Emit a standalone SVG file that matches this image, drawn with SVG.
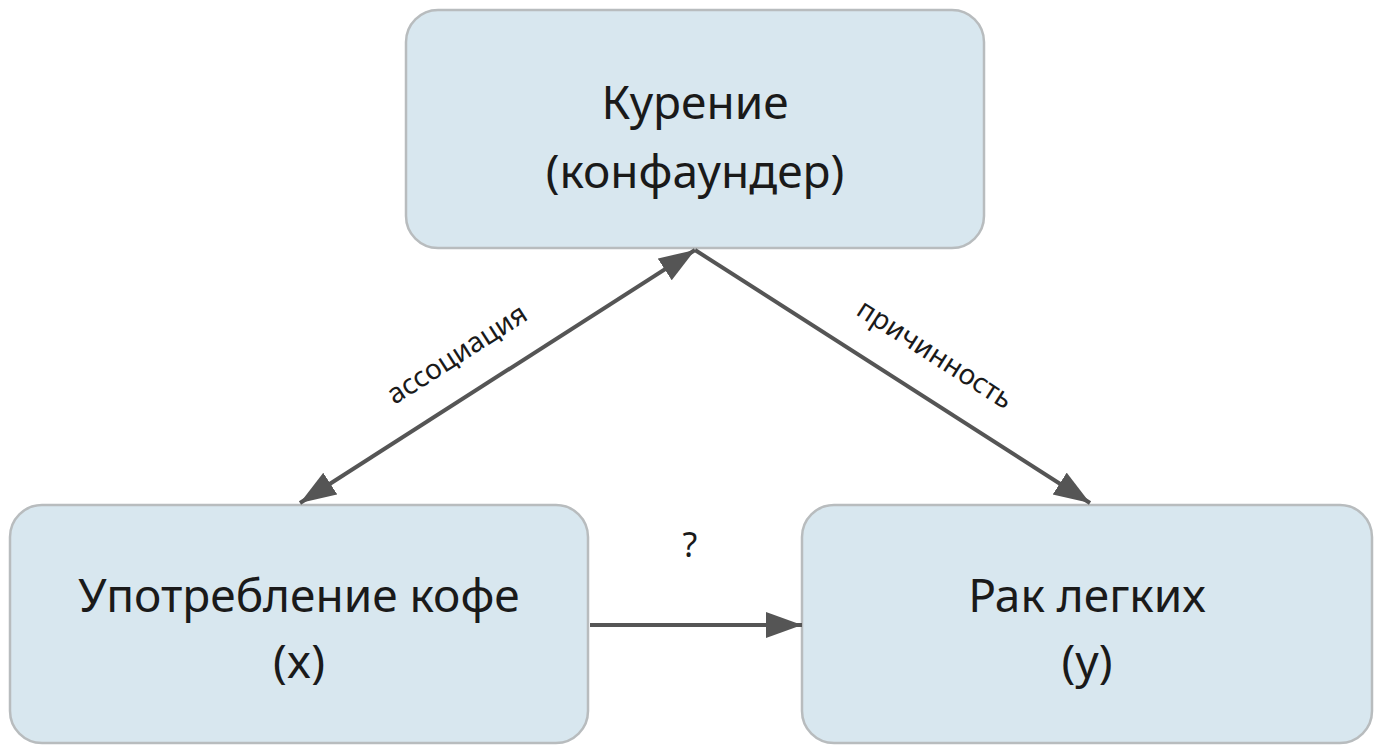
<svg xmlns="http://www.w3.org/2000/svg" width="1382" height="752" viewBox="0 0 1382 752">
<style>
.box{fill:#d8e7ef;stroke:#b8bcbe;stroke-width:2.5}
.t{font-family:"Noto Sans","Open Sans",sans-serif;font-size:46px;fill:#1a1a1a;text-anchor:middle}
.l{font-family:"Noto Sans","Open Sans",sans-serif;font-size:28px;fill:#1a1a1a;text-anchor:middle}
.c{stroke:#555;stroke-width:4;fill:none}
</style>
<defs>
<marker id="a" viewBox="0 0 10 10" refX="9" refY="5" markerWidth="9" markerHeight="9" markerUnits="userSpaceOnUse" orient="auto-start-reverse" style="overflow:visible"><path d="M0,0L10,5L0,10z" fill="#555" transform="scale(3.6) translate(-2.5,-5) translate(2.5,5)"/></marker>
<marker id="m" markerWidth="40" markerHeight="30" refX="36" refY="13" orient="auto-start-reverse" markerUnits="userSpaceOnUse"><path d="M0,0L36,13L0,26z" fill="#555"/></marker>
</defs>
<rect width="1382" height="752" fill="#fff"/>
<g id="smoking"><rect class="box" x="406" y="10" width="578" height="238" rx="32"/><text class="t" x="695" y="119">Курение</text><text class="t" x="695" y="188">(конфаундер)</text></g>
<g id="coffee"><rect class="box" x="10" y="505" width="578" height="238" rx="32"/><text class="t" x="299" y="612">Употребление кофе</text><text class="t" x="299" y="678">(x)</text></g>
<g id="cancer"><rect class="box" x="802" y="505" width="570" height="238" rx="32"/><text class="t" x="1087" y="612">Рак легких</text><text class="t" x="1087" y="678">(y)</text></g>
<g id="connectors">
<line class="c" x1="300" y1="503" x2="695" y2="250" marker-start="url(#m)" marker-end="url(#m)"/>
<line class="c" x1="695" y1="250" x2="1090" y2="503" marker-end="url(#m)"/>
<line class="c" x1="590" y1="625" x2="802" y2="625" marker-end="url(#m)"/>
<text class="l" transform="translate(462,362) rotate(-32.6)">ассоциация</text>
<text class="l" transform="translate(930,362) rotate(32.6)">причинность</text>
<text class="l" x="690" y="557" style="font-size:34px">?</text>
</g>
</svg>
